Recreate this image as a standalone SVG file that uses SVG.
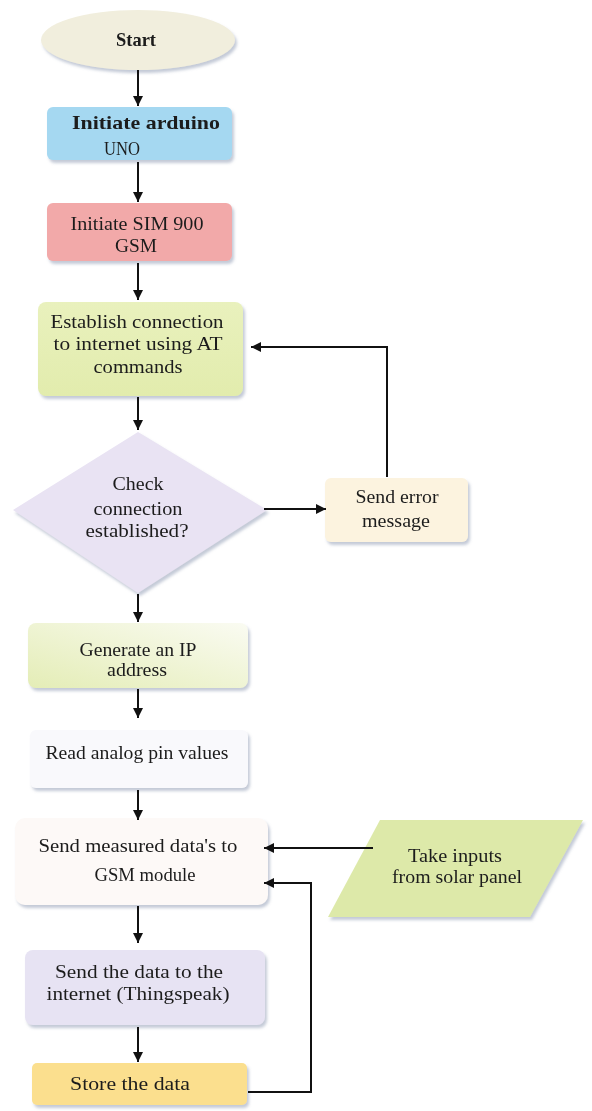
<svg xmlns="http://www.w3.org/2000/svg" width="592" height="1111" viewBox="0 0 592 1111">
<style>
text{font-family:"Liberation Serif","Times New Roman",serif;font-size:19px;fill:#1c1c1c;text-anchor:middle}
.b{font-weight:bold}
.c{stroke:#111;stroke-width:2;fill:none}
.node{filter:url(#sh)}
</style>
<defs>
<filter id="sh" x="-10%" y="-10%" width="125%" height="130%">
<feDropShadow dx="2" dy="3" stdDeviation="1.5" flood-color="#7c8aa6" flood-opacity="0.45"/>
</filter>
<linearGradient id="gGen" x1="0" y1="1" x2="1" y2="0">
<stop offset="0" stop-color="#e4edb6"/>
<stop offset="1" stop-color="#fafbf2"/>
</linearGradient>
<linearGradient id="gEst" x1="0" y1="0" x2="0" y2="1">
<stop offset="0" stop-color="#e9f1bd"/>
<stop offset="1" stop-color="#e2ecad"/>
</linearGradient>
<marker id="ah" viewBox="0 0 10 10" refX="10" refY="5" markerWidth="5" markerHeight="5" orient="auto" markerUnits="strokeWidth">
<path d="M0,0 L10,5 L0,10 z" fill="#111"/>
</marker>
</defs>
<rect width="592" height="1111" fill="#ffffff"/>

<g id="start" class="node">
<ellipse cx="138" cy="40" rx="97" ry="30" fill="#f1eedd"/>
<text x="136" y="46" class="b" textLength="40" lengthAdjust="spacingAndGlyphs">Start</text>
</g>

<g id="arduino" class="node">
<rect x="47" y="107" width="185" height="53" rx="6" fill="#a5d8f1"/>
<text x="146" y="129" class="b" textLength="148" lengthAdjust="spacingAndGlyphs">Initiate arduino</text>
<text x="122" y="155" textLength="36" lengthAdjust="spacingAndGlyphs">UNO</text>
</g>

<g id="sim" class="node">
<rect x="47" y="203" width="185" height="58" rx="6" fill="#f2a9a9"/>
<text x="137" y="230" textLength="133" lengthAdjust="spacingAndGlyphs">Initiate SIM 900</text>
<text x="136" y="252" textLength="42" lengthAdjust="spacingAndGlyphs">GSM</text>
</g>

<g id="establish" class="node">
<rect x="38" y="302" width="205" height="94" rx="8" fill="url(#gEst)"/>
<text x="137" y="328" textLength="173" lengthAdjust="spacingAndGlyphs">Establish connection</text>
<text x="138" y="350" textLength="169" lengthAdjust="spacingAndGlyphs">to internet using AT</text>
<text x="138" y="373" textLength="89" lengthAdjust="spacingAndGlyphs">commands</text>
</g>

<g id="check" class="node">
<polygon points="138,432 267,510 138,593 13,510" fill="#e9e3f3"/>
<text x="138" y="490" textLength="51" lengthAdjust="spacingAndGlyphs">Check</text>
<text x="138" y="515" textLength="89" lengthAdjust="spacingAndGlyphs">connection</text>
<text x="137" y="537" textLength="103" lengthAdjust="spacingAndGlyphs">established?</text>
</g>

<g id="senderror" class="node">
<rect x="325" y="478" width="143" height="64" rx="6" fill="#fcf3df"/>
<text x="397" y="503" textLength="83" lengthAdjust="spacingAndGlyphs">Send error</text>
<text x="396" y="527" textLength="68" lengthAdjust="spacingAndGlyphs">message</text>
</g>

<g id="generate" class="node">
<rect x="28" y="623" width="220" height="65" rx="8" fill="url(#gGen)"/>
<text x="138" y="656" textLength="117" lengthAdjust="spacingAndGlyphs">Generate an IP</text>
<text x="137" y="676" textLength="60" lengthAdjust="spacingAndGlyphs">address</text>
</g>

<g id="read" class="node">
<rect x="30" y="730" width="218" height="58" rx="6" fill="#f9f9fc"/>
<text x="137" y="759" textLength="183" lengthAdjust="spacingAndGlyphs">Read analog pin values</text>
</g>

<g id="measured" class="node">
<rect x="15" y="818" width="253" height="87" rx="10" fill="#fdf9f7"/>
<text x="138" y="852" textLength="199" lengthAdjust="spacingAndGlyphs">Send measured data's to</text>
<text x="145" y="881" textLength="101" lengthAdjust="spacingAndGlyphs">GSM module</text>
</g>

<g id="solar" class="node">
<polygon points="380,820 583,820 530,917 328,917" fill="#dde9a9"/>
<text x="455" y="862" textLength="94" lengthAdjust="spacingAndGlyphs">Take inputs</text>
<text x="457" y="883" textLength="130" lengthAdjust="spacingAndGlyphs">from solar panel</text>
</g>

<g id="thingspeak" class="node">
<rect x="25" y="950" width="240" height="75" rx="8" fill="#e7e3f3"/>
<text x="139" y="978" textLength="168" lengthAdjust="spacingAndGlyphs">Send the data to the</text>
<text x="138" y="1000" textLength="183" lengthAdjust="spacingAndGlyphs">internet (Thingspeak)</text>
</g>

<g id="store" class="node">
<rect x="32" y="1063" width="215" height="42" rx="5" fill="#fbdf8e"/>
<text x="130" y="1090" textLength="120" lengthAdjust="spacingAndGlyphs">Store the data</text>
</g>

<g id="connectors">
<line class="c" x1="138" y1="70" x2="138" y2="106" marker-end="url(#ah)"/>
<line class="c" x1="138" y1="162" x2="138" y2="202" marker-end="url(#ah)"/>
<line class="c" x1="138" y1="263" x2="138" y2="300" marker-end="url(#ah)"/>
<line class="c" x1="138" y1="397" x2="138" y2="430" marker-end="url(#ah)"/>
<line class="c" x1="138" y1="594" x2="138" y2="622" marker-end="url(#ah)"/>
<line class="c" x1="138" y1="689" x2="138" y2="718" marker-end="url(#ah)"/>
<line class="c" x1="138" y1="790" x2="138" y2="820" marker-end="url(#ah)"/>
<line class="c" x1="138" y1="906" x2="138" y2="943" marker-end="url(#ah)"/>
<line class="c" x1="138" y1="1027" x2="138" y2="1062" marker-end="url(#ah)"/>
<line class="c" x1="264" y1="509" x2="326" y2="509" marker-end="url(#ah)"/>
<polyline class="c" points="387,477 387,347 251,347" marker-end="url(#ah)"/>
<line class="c" x1="373" y1="848" x2="264" y2="848" marker-end="url(#ah)"/>
<polyline class="c" points="248,1092 311,1092 311,883 264,883" marker-end="url(#ah)"/>
</g>
</svg>
